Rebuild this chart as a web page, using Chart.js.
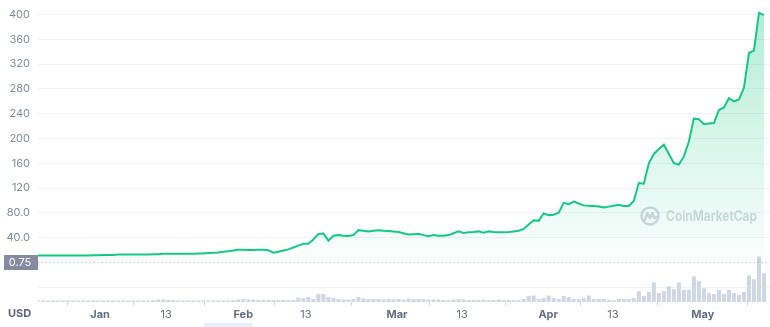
<!DOCTYPE html>
<html><head><meta charset="utf-8">
<script src="https://cdn.jsdelivr.net/npm/chart.js@4.4.0/dist/chart.umd.min.js"></script>
<style>html,body{margin:0;padding:0;background:#fff;}canvas{display:block;}</style>
</head><body>
<canvas id="c" width="770" height="327"></canvas>
<script>
// ---- data ----
const price = [
 11,11,11,11,11,11,11,11,11,11,11,11.5,11.5,12,12,12,12.5,12.5,12.5,12.5,
 12.5,12.5,12.5,13,13,14,14,14,14,14,14,14,14.5,14.5,15,15.5,16,17,18,19,
 20.5,20.5,20,20,20.5,20.5,19.5,15.5,17,19,21,24,27,30,30,37,46,46.5,35,43,
 44,43,42.5,44,52,51,50,51,52,51,50.5,50,49,47,45,45.5,46,44,42,44,
 43,43,44,47,50,47.5,48.5,49,50,48,50,49,48.5,48.5,49,50,51,54,61,68,
 67,79,76,77,80,96,94,98,95,92,91.5,91,90,88.5,90,91.5,93,91,91,99,
 128,127,160,175,183,190,175,160,158,171,195,232,231,223,224,225,246,250,265,260,
 263,282,338,342,403,399
];
const volume = [
 1.5,1.5,1.5,1.5,1.5,1.5,1.5,1.5,1.5,1.5,1.5,1.5,1.5,1.5,1.5,1.5,1.5,1.5,1.5,1.5,
 1.5,1.5,1.5,2,2.5,2.5,2,2,1.5,1.5,1.5,1.5,1.5,1.5,1.5,1.5,1.5,1.5,1.5,2,
 2.5,3,2.5,2.5,2,2,2,2,2,2,2,2,4.5,4,5,3,8,8,5,4,
 3,2.5,2.5,3,5,3.5,3,3,3,2.5,3,2.5,3,2.5,3.5,3,3,3,2.5,2.5,
 2.5,2,2,2.5,3,2.5,2,2,2,2.5,2,2,2.5,2,2,2,2,3,6,6.5,
 3,4,6.5,4,3,6,5,3,3,4,6.5,3,3,3,2,1.5,3,3,3,4,
 11,6,10,20,9,11,16,13,20,12.5,12.5,26,21,14,9,8,12.5,8,12.5,9,
 7,10,27,23,46,29
];
const xTickPositions = [12.4, 25.6, 41, 53.5, 71.7, 84.7, 101.9, 114.8, 132.8];
const xTickLabels = ['Jan','13','Feb','13','Mar','13','Apr','13','May'];
const priceTicks = [-40, 40, 80, 120, 160, 200, 240, 280, 320, 360, 400];
const priceTickLabels = ['', '40.0', '80.0', '120', '160', '200', '240', '280', '320', '360', '400'];
const refPrice = 0.75;
const refPriceLabel = '0.75';
const currencyLabel = 'USD';
const watermark = 'CoinMarketCap';

// ---- chart ----
const FONT = 'Inter, "Noto Sans", sans-serif';
const GREEN = '#16c784';

const overlay = {
  id: 'overlay',
  beforeDatasetsDraw(chart) {
    const ctx = chart.ctx;
    ctx.save();
    const cx = 650, cy = 216;
    const wm = 'rgba(188,196,212,0.7)';
    ctx.strokeStyle = wm;
    ctx.lineWidth = 2.4;
    ctx.lineCap = 'round';
    ctx.lineJoin = 'round';
    ctx.beginPath();
    ctx.arc(cx, cy, 8.5, 0.15 * Math.PI, 2.05 * Math.PI);
    ctx.stroke();
    ctx.beginPath();
    ctx.moveTo(cx - 5, cy + 4);
    ctx.lineTo(cx - 2.5, cy - 3);
    ctx.lineTo(cx, cy + 2);
    ctx.lineTo(cx + 2.5, cy - 3);
    ctx.lineTo(cx + 4, cy + 2);
    ctx.lineTo(cx + 7, cy + 1);
    ctx.stroke();
    ctx.fillStyle = wm;
    ctx.font = '600 14px ' + FONT;
    ctx.textBaseline = 'middle';
    ctx.textAlign = 'left';
    const w = ctx.measureText(watermark).width;
    const target = 91;
    ctx.translate(666, cy + 1);
    ctx.scale(target / w, 1);
    ctx.fillText(watermark, 0, 0);
    ctx.restore();
  },
  afterDatasetsDraw(chart) {
    const ctx = chart.ctx;
    const area = chart.chartArea;
    const yRef = Math.round(chart.scales.y.getPixelForValue(refPrice)) + 0.5;
    ctx.save();
    ctx.strokeStyle = '#a7b1c2';
    ctx.lineWidth = 1;
    ctx.setLineDash([1, 3]);
    ctx.beginPath();
    ctx.moveTo(area.left, yRef);
    ctx.lineTo(area.right, yRef);
    ctx.stroke();
    ctx.setLineDash([]);
    ctx.fillStyle = '#858ca2';
    ctx.fillRect(4, yRef - 7.5, 34, 15);
    ctx.fillStyle = '#ffffff';
    ctx.font = '11px ' + FONT;
    ctx.textAlign = 'center';
    ctx.textBaseline = 'middle';
    ctx.fillText(refPriceLabel, 20, yRef);
    ctx.fillStyle = '#58667e';
    ctx.font = 'bold 11px ' + FONT;
    ctx.textAlign = 'left';
    ctx.fillText(currencyLabel, 8, 314);
    ctx.fillStyle = 'rgba(214,226,250,0.55)';
    ctx.fillRect(204, 323, 49, 4);
    ctx.restore();
  }
};

new Chart(document.getElementById('c'), {
  type: 'line',
  data: {
    datasets: [
      {
        type: 'line',
        data: price.map((v, i) => ({x: i, y: v})),
        yAxisID: 'y',
        borderColor: GREEN,
        borderWidth: 2,
        pointRadius: 0,
        tension: 0,
        fill: 'origin',
        clip: false,
        order: 0,
        backgroundColor(ctx) {
          const a = ctx.chart.chartArea;
          if (!a) return 'rgba(22,199,132,0.1)';
          const g = ctx.chart.ctx.createLinearGradient(0, a.top, 0, ctx.chart.scales.y.getPixelForValue(0));
          g.addColorStop(0, 'rgba(22,199,132,0.32)');
          g.addColorStop(1, 'rgba(22,199,132,0.02)');
          return g;
        }
      },
      {
        type: 'bar',
        data: volume.map((v, i) => ({x: i, y: v})),
        yAxisID: 'yv',
        backgroundColor: '#cfd6e4',
        barPercentage: 0.8,
        categoryPercentage: 1,
        order: 1
      }
    ]
  },
  options: {
    responsive: false,
    devicePixelRatio: 1,
    animation: false,
    layout: {padding: {top: 1, right: 0, left: 0, bottom: 0}},
    plugins: {legend: {display: false}, tooltip: {enabled: false}},
    scales: {
      x: {
        type: 'linear',
        min: 0,
        max: 146.2,
        offset: false,
        afterBuildTicks(scale) { scale.ticks = xTickPositions.map(v => ({value: v})); },
        afterFit(scale) { scale.height = 25; },
        grid: {display: true, drawOnChartArea: false, drawTicks: true, tickLength: 4, color: '#cfd6e4'},
        border: {display: false},
        ticks: {
          autoSkip: false,
          maxRotation: 0,
          padding: 2,
          color: '#616e85',
          font(ctx) {
            const lab = xTickLabels[ctx.index] || '';
            return {family: FONT, size: 11, weight: /\d/.test(lab) ? 'normal' : 'bold'};
          },
          callback(v, i) { return xTickLabels[i]; }
        }
      },
      y: {
        position: 'left',
        min: -64,
        max: 400,
        afterBuildTicks(scale) { scale.ticks = priceTicks.map(v => ({value: v})); },
        afterFit(scale) { scale.width = 38; },
        grid: {color: '#eff2f5', drawTicks: false, lineWidth: 1},
        border: {display: false},
        ticks: {
          padding: 8,
          color: '#808a9d',
          font: {family: FONT, size: 11},
          callback(v, i) { return priceTickLabels[i]; }
        }
      },
      yv: {
        display: false,
        min: 0,
        max: 291
      }
    }
  },
  plugins: [overlay]
});
</script>
</body></html>
